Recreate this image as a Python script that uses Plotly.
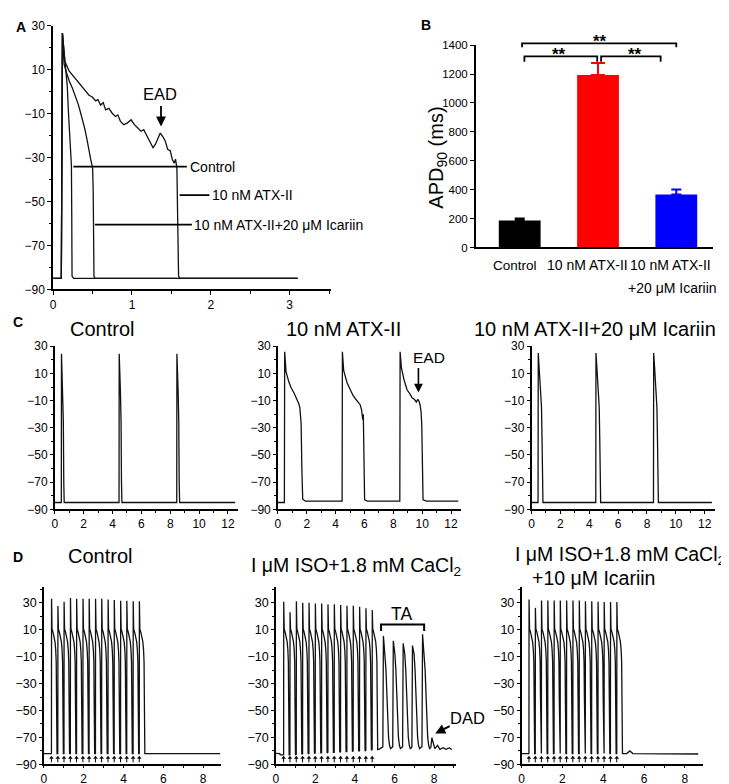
import plotly.graph_objects as go

W, H = 729, 784
FONT = "Liberation Sans, Arial, sans-serif"

# ---------------- panel A: single APs (s, mV) ----------------
a_ctrl_t = [0.0, 0.104, 0.118, 0.135, 0.16, 0.18, 0.195, 0.215, 0.232, 0.236, 0.24, 0.26, 3.1]
a_ctrl_v = [-85, -85, 26.6, 19, 11, 2, -10, -24.7, -33.7, -55, -84, -85, -85]

a_icar_t = [0.0, 0.104, 0.118, 0.139, 0.17, 0.202, 0.245, 0.287, 0.32, 0.35, 0.38, 0.404,
            0.425, 0.442, 0.46, 0.476, 0.49, 0.501, 0.508, 0.513, 0.518, 0.53, 3.1]
a_icar_v = [-85, -85, 26.6, 12.4, 8.5, 5, 1.5, -2.4, -6, -9.9, -13.5, -17.4,
            -21, -24.8, -27.8, -30.8, -33, -35.2, -45, -65, -84, -85, -85]

a_atx_t = [0.0, 0.104, 0.118, 0.147, 0.202, 0.307, 0.391, 0.455, 0.497, 0.539, 0.568, 0.602,
           0.636, 0.665, 0.707, 0.749, 0.791, 0.821, 0.854, 0.896, 0.939, 0.989, 1.031, 1.073,
           1.115, 1.149, 1.191, 1.233, 1.267, 1.296, 1.326, 1.359, 1.393, 1.423, 1.452, 1.486,
           1.511, 1.536, 1.553, 1.570, 1.578, 1.586, 1.591, 1.61, 3.1]
a_atx_v = [-85, -85, 26.6, 13.9, 9.4, 5.0, 1.3, -1.7, -2.5, -4.3, -3.7, -6.2,
           -5.1, -8.4, -7.7, -9.9, -11.4, -10.7, -13.6, -15.1, -14.4, -12.9, -15.1, -16.6,
           -18.1, -17.4, -20.3, -22.6, -25.6, -24.1, -21.8, -18.9, -20.6, -22.6, -26.3, -27.0,
           -30.8, -32.6, -30.8, -35.2, -54.6, -75, -84, -85, -85]

# ---------------- panel B: APD90 ----------------
b_apd = [186, 1194, 367]
b_err = [14, 82, 34]
b_colors = ["#000000", "#ff0000", "#0000ff"]

# ---------------- panel C: 0.25 Hz trains ----------------
c_onsets = [0.45, 4.45, 8.45]
c_ctrl_off = [0.012, 0.05, 0.1, 0.14, 0.17, 0.2]
c_ctrl_shape = [24.5, 12, -5, -25, -70, -85]
c_icar_off = [0.015, 0.08, 0.16, 0.24, 0.28, 0.31, 0.34]
c_icar_shape = [25, 14, 0, -15, -40, -80, -85]

c_atx_t = [0.0, 0.45, 0.47, 0.56, 0.75, 0.91, 1.10, 1.26, 1.35, 1.45, 1.52, 1.56, 1.61, 1.66, 1.72, 1.9,
           4.45, 4.47, 4.56, 4.80, 5.00, 5.20, 5.40, 5.55, 5.70, 5.80, 5.88, 5.92, 5.96, 6.01, 6.2,
           8.45, 8.47, 8.56, 8.75, 8.95, 9.15, 9.30, 9.45, 9.60, 9.70, 9.78, 9.85, 9.92, 9.97, 10.02,
           10.06, 10.3, 12.5]
c_atx_v = [-85, -85, 26, 11.5, 4, -0.4, -4, -7.6, -9, -12.3, -15, -19.5, -26.6, -59.8, -82.6, -84,
           -84, 26, 12, 3, -2, -6, -9, -11, -13, -17, -24, -20, -40, -83, -84,
           -84, 26, 14, 5, -2, -5, -8, -9, -11, -9, -10.5, -13, -18, -27, -60,
           -83, -84, -84]

# ---------------- panel D: paced trains ----------------
d_off = [0.03, 0.08, 0.13, 0.18, 0.215, 0.24, 0.255, 0.265]
d_shape = [10.5, 8, 5, 1, -5, -14, -40, -70]
d_end_off = 0.28

d1_onsets = [0.38, 0.70, 1.01, 1.33, 1.64, 1.96, 2.27, 2.59, 2.90, 3.22, 3.53, 3.85, 4.16, 4.48, 4.79]
d1_peaks = [32.9, 27.6, 30.7, 33.6, 32.9, 32.9, 32.9, 32.9, 32.9, 32.5, 32.0, 31.5, 31.5, 31.2, 31.2]

d2_onsets = [0.39, 0.71, 1.03, 1.35, 1.67, 1.99, 2.31, 2.63, 2.95, 3.27, 3.59, 3.91, 4.23, 4.55, 4.87]
d2_peaks = [30.7, 23.0, 31.2, 30.0, 30.0, 29.5, 29.5, 28.8, 28.8, 28.3, 27.8, 27.8, 27.1, 26.0, 24.6]
d2_bases = [-83, -83, -82.5, -82, -82, -81.5, -81.5, -81, -81, -80.5, -80.5, -80, -80, -79.5, -79]
ta_onsets = [5.41, 5.91, 6.41, 6.88, 7.39]
ta_peaks = [5.4, 1.8, -0.1, -1.8, 6.6]
ta_off = [0.03, 0.11, 0.16, 0.21, 0.24, 0.29, 0.34, 0.39, 0.45]
ta_shape = [-8, -20, -40, -56, -70, -76, -78.3, -77.5]
dad_t = [7.89, 8.04, 8.18, 8.30, 8.46, 8.60, 8.77, 8.9]
dad_v = [-70.2, -78.3, -75.9, -78.8, -77.6, -78.8, -77.8, -79]

d3_onsets = [0.36, 0.67, 0.97, 1.28, 1.59, 1.89, 2.20, 2.51, 2.82, 3.12, 3.43, 3.74, 4.04, 4.35, 4.66]
d3_peaks = [32.4, 26.2, 31.7, 31.7, 31.7, 31.7, 31.7, 31.7, 31.7, 31.2, 31.2, 30.8, 30.5, 30.5, 30.5]
d3_tail_t = [5.15, 5.30, 5.45, 8.65]
d3_tail_v = [-82, -80, -82, -82.3]


def build(onsets, off, shape, t_end, base):
    t, v = [0.0], [base]
    for t0 in onsets:
        t.append(t0)
        v.append(base)
        t += [t0 + o for o in off]
        v += list(shape)
    t.append(t_end)
    v.append(base)
    return t, v


def build_d(onsets, peaks, bases):
    t, v = [], []
    for t0, pk, b in zip(onsets, peaks, bases):
        t += [t0, t0 + 0.006] + [t0 + o for o in d_off] + [t0 + d_end_off]
        v += [b, pk] + d_shape + [b]
    return t, v


def xd(p0, p1):
    return [p0 / W, p1 / W]


def yd(top, bot):
    return [1 - bot / H, 1 - top / H]


def px(xp):
    return xp / W


def py(yp):
    return 1 - yp / H


def ax_style(**kw):
    s = dict(showline=True, linecolor="black", linewidth=1.5, showgrid=False, zeroline=False,
             ticks="outside", ticklen=4, tickwidth=1.2, tickcolor="black",
             tickfont=dict(family=FONT, size=12, color="black"), fixedrange=True)
    s.update(kw)
    return s


LINE = dict(color="#111111", width=1.3)
fig = go.Figure()

# A
for tt, vv in [(a_ctrl_t, a_ctrl_v), (a_icar_t, a_icar_v), (a_atx_t, a_atx_v)]:
    fig.add_trace(go.Scatter(x=tt, y=vv, mode="lines", line=LINE, xaxis="x", yaxis="y"))

# B
for i in range(3):
    fig.add_trace(go.Bar(x=[i], y=[b_apd[i]], width=0.534, marker=dict(color=b_colors[i], line=dict(width=0)),
                         error_y=dict(type="data", symmetric=False, array=[b_err[i]], arrayminus=[0],
                                      color=b_colors[i], thickness=2, width=7 if i == 1 else 5),
                         xaxis="x2", yaxis="y2"))

# C
t, v = build(c_onsets, c_ctrl_off, c_ctrl_shape, 12.5, -85)
fig.add_trace(go.Scatter(x=t, y=v, mode="lines", line=LINE, xaxis="x3", yaxis="y3"))
fig.add_trace(go.Scatter(x=c_atx_t, y=c_atx_v, mode="lines", line=LINE, xaxis="x4", yaxis="y4"))
t, v = build(c_onsets, c_icar_off, c_icar_shape, 12.5, -85)
fig.add_trace(go.Scatter(x=t, y=v, mode="lines", line=LINE, xaxis="x5", yaxis="y5"))

# D1
t, v = build_d(d1_onsets, d1_peaks, [-82] * len(d1_onsets))
fig.add_trace(go.Scatter(x=[0.0] + t + [8.85], y=[-82] + v + [-82], mode="lines", line=LINE,
                         xaxis="x6", yaxis="y6"))
# D2: paced beats, then triggered activity and DADs
t, v = build_d(d2_onsets, d2_peaks, d2_bases)
tt = [0.0, 0.2, 0.22] + t + [5.25, 5.35]
vv = [-81.8, -82, -83] + v + [-78.5, -77.6]
for t0, pk in zip(ta_onsets, ta_peaks):
    tt += [t0] + [t0 + o for o in ta_off]
    vv += [-77, pk] + ta_shape
fig.add_trace(go.Scatter(x=tt + dad_t, y=vv + dad_v, mode="lines", line=LINE, xaxis="x7", yaxis="y7"))
# D3
t, v = build_d(d3_onsets, d3_peaks, [-82] * len(d3_onsets))
fig.add_trace(go.Scatter(x=[0.0] + t + d3_tail_t, y=[-82] + v + d3_tail_v, mode="lines", line=LINE,
                         xaxis="x8", yaxis="y8"))

# stimulus arrows
for ons, xa, ya in [(d1_onsets, "x6", "y6"), (d2_onsets, "x7", "y7"), (d3_onsets, "x8", "y8")]:
    sx, sy = [], []
    for t0 in ons:
        sx += [t0, t0, None]
        sy += [-88.5, -85.5, None]
    fig.add_trace(go.Scatter(x=sx, y=sy, mode="lines", line=dict(color="black", width=1),
                             xaxis=xa, yaxis=ya))
    fig.add_trace(go.Scatter(x=ons, y=[-85] * len(ons), mode="markers",
                             marker=dict(symbol="triangle-up", size=4, color="black"),
                             xaxis=xa, yaxis=ya))

lay = dict(width=W, height=H, margin=dict(l=0, r=0, t=0, b=0), paper_bgcolor="white",
           plot_bgcolor="white", showlegend=False, font=dict(family=FONT, color="black"))

lay["xaxis"] = ax_style(domain=xd(42.3, 321), range=[0, 3.52], anchor="y", dtick=1, tick0=0,
                        minor=dict(dtick=0.5, ticks="outside", ticklen=2.5, tickcolor="black"))
lay["yaxis"] = ax_style(domain=yd(10.7, 279.3), range=[-90, 30], anchor="x", dtick=20, tick0=-90,
                        minor=dict(dtick=10, ticks="outside", ticklen=2.5, tickcolor="black"))

lay["xaxis2"] = ax_style(domain=xd(466.7, 705), range=[-0.561, 2.47], anchor="y2", ticks="",
                         showticklabels=False)
lay["yaxis2"] = ax_style(domain=yd(30.7, 236.7), range=[0, 1400], anchor="x2", dtick=200,
                         tickfont=dict(family=FONT, size=11.5, color="black"))

c_y = yd(337.3, 503.3)
for k, (p0, p1) in zip([3, 4, 5], [(44, 228), (268, 452), (522.7, 706.7)]):
    lay["xaxis%d" % k] = ax_style(domain=xd(p0, p1), range=[0, 12.7], anchor="y%d" % k, dtick=2, tick0=0,
                                  ticklen=3, tickfont=dict(family=FONT, size=12, color="black"),
                                  minor=dict(dtick=1, ticks="outside", ticklen=2, tickcolor="black"))
    lay["yaxis%d" % k] = ax_style(domain=c_y, range=[-90, 30], anchor="x%d" % k, dtick=20, tick0=-90,
                                  ticklen=3, tickfont=dict(family=FONT, size=12, color="black"),
                                  minor=dict(dtick=10, ticks="outside", ticklen=2, tickcolor="black"))

d_y = yd(582, 763)
for k, (p0, p1, r1) in zip([6, 7, 8], [(33, 211, 8.9), (266, 446.6, 9.1), (512.7, 695.2, 8.9)]):
    lay["xaxis%d" % k] = ax_style(domain=xd(p0, p1), range=[0, r1], anchor="y%d" % k, dtick=2, tick0=0,
                                  ticklen=2, tickfont=dict(family=FONT, size=12, color="black"),
                                  minor=dict(dtick=1, ticks="outside", ticklen=2, tickcolor="black"))
    lay["yaxis%d" % k] = ax_style(domain=d_y, range=[-90, 42], anchor="x%d" % k, dtick=20, tick0=-90,
                                  ticklen=3, tickfont=dict(family=FONT, size=12.5, color="black"),
                                  minor=dict(dtick=10, ticks="outside", ticklen=2, tickcolor="black"))

fig.update_layout(**lay)

ann = []


def txt(x, y, s, size, xref="paper", yref="paper", xanchor="center", bold=False, **kw):
    ann.append(dict(x=x, y=y, xref=xref, yref=yref, text="<b>%s</b>" % s if bold else s,
                    showarrow=False, xanchor=xanchor, yanchor="middle",
                    font=dict(family=FONT, size=size, color="black"), **kw))


def arrow(x, y, axp, ayp, xref, yref, width=1.8, size=1.1):
    ann.append(dict(x=x, y=y, xref=xref, yref=yref, ax=axp, ay=ayp, text="", showarrow=True,
                    arrowhead=2, arrowsize=size, arrowwidth=width, arrowcolor="black", standoff=0))


# panel letters
txt(px(10), py(12), "A", 14, bold=True)
txt(px(417), py(10), "B", 14, bold=True)
txt(px(7), py(313), "C", 14, bold=True)
txt(px(7), py(552), "D", 14, bold=True)

# A labels
shapes = []
for x0, x1, yv in [(0.257, 1.696, -34.2), (1.604, 1.982, -47.2), (0.53, 1.76, -60.6)]:
    shapes.append(dict(type="line", xref="x", yref="y", x0=x0, x1=x1, y0=yv, y1=yv,
                       line=dict(color="black", width=1.8)))
txt(1.71, -34.2, "Control", 14, "x", "y", "left")
txt(1.99, -47.2, "10 nM ATX-II", 14, "x", "y", "left")
txt(1.765, -60.6, "10 nM ATX-II+20 μM Icariin", 14, "x", "y", "left")
txt(1.359, -1, "EAD", 16.5, "x", "y")
arrow(1.368, -15.9, 0, -22, "x", "y")

# B labels
txt(px(428), py(145), "APD<sub>90</sub> (ms)", 20, textangle=-90)
txt(-0.06, py(255), "Control", 13.5, "x2", "paper")
txt(0.87, py(255), "10 nM ATX-II", 14, "x2", "paper")
txt(1.92, py(255), "10 nM ATX-II", 14, "x2", "paper")
txt(1.95, py(278), "+20 μM Icariin", 14, "x2", "paper")
for x0, x1, ytop, ybot in [(0.03, 2.0, 1412, 1385), (0.06, 0.99, 1322, 1285), (1.04, 1.80, 1322, 1285)]:
    yt, yb = ytop / 1400, ybot / 1400
    shapes.append(dict(type="path", xref="x2", yref="y2 domain",
                       path="M %g,%g L %g,%g L %g,%g L %g,%g" % (x0, yb, x0, yt, x1, yt, x1, yb),
                       line=dict(color="black", width=1.8)))
txt(1.03, 1427 / 1400, "**", 17, "x2", "y2 domain", bold=True)
txt(0.5, 1332 / 1400, "**", 17, "x2", "y2 domain", bold=True)
txt(1.47, 1332 / 1400, "**", 17, "x2", "y2 domain", bold=True)

# C titles
txt(px(91), py(320), "Control", 20)
txt(px(334), py(320), "10 nM ATX-II", 20)
txt(px(586), py(320), "10 nM ATX-II+20 μM Icariin", 20)
txt(10.44, 21.4, "EAD", 15.5, "x4", "y4")
arrow(9.74, -4, 0, -26, "x4", "y4", width=1.6)

# D titles
txt(px(89), py(551), "Control", 20)
txt(px(346), py(562), "I μM ISO+1.8 mM CaCl<sub>2</sub>", 19.5)
txt(px(612), py(550), "I μM ISO+1.8 mM CaCl<sub>2</sub>", 19.5)
txt(px(585), py(573), "+10 μM Icariin", 19.5)
shapes.append(dict(type="path", xref="x7", yref="y7", path="M 5.32,9 L 5.32,13.8 L 7.5,13.8 L 7.5,9",
                   line=dict(color="black", width=2)))
txt(6.33, 22, "TA", 17.5, "x7", "y7")
txt(px(458), py(716), "DAD", 16.5)
arrow(8.06, -67, 16, -8, "x7", "y7", width=2, size=1.0)

fig.update_layout(annotations=ann, shapes=shapes)
fig.write_html("out.html")
